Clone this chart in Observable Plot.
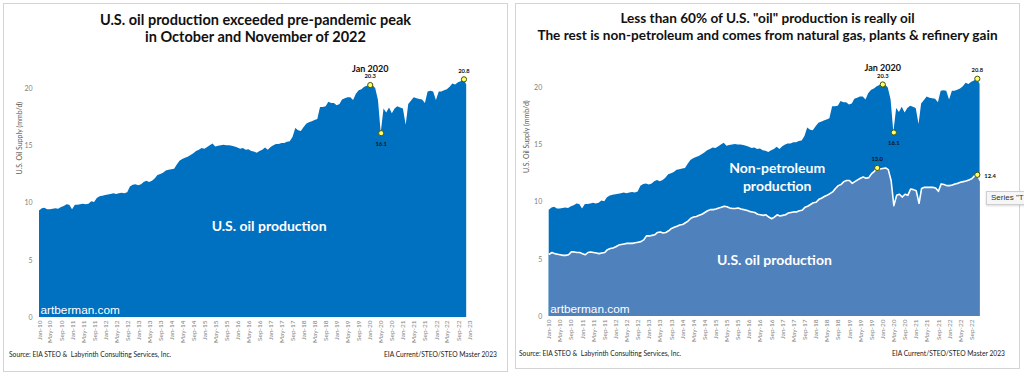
<!DOCTYPE html>
<html><head><meta charset="utf-8">
<script src="https://cdn.jsdelivr.net/npm/d3@7"></script>
<script src="https://cdn.jsdelivr.net/npm/@observablehq/plot@0.6"></script>
<style>
html,body{margin:0;padding:0;background:#fff;overflow:hidden;width:1024px;height:376px;}
.panel{position:absolute;border:1px solid #d4d4d4;background:#fff;box-sizing:border-box;overflow:visible;}
.title{position:absolute;left:0;right:0;text-align:center;font-family:Lato,sans-serif;font-weight:bold;color:#111;font-size:13.5px;line-height:17px;white-space:pre;}
.foot{position:absolute;font-family:Lato,sans-serif;font-size:6.7px;color:#222;white-space:pre;}
.chart{position:absolute;left:0;}
.tip{position:absolute;left:986px;top:191px;width:50px;height:12px;background:#f6f6f6;border:1px solid #cfcfcf;box-shadow:0 1px 2px rgba(0,0,0,0.15);font-family:"Liberation Sans",Arial,sans-serif;font-size:8px;color:#333;line-height:12px;padding-left:4px;white-space:pre;}
</style></head><body>
<div id="p1" class="panel" style="left:3px;top:3px;width:505px;height:369px">
  <div class="title" style="top:7px;font-size:14.5px">U.S. oil production exceeded pre-pandemic peak
in October and November of 2022</div>
  <div id="c1" class="chart" style="top:43px"></div>
  <div class="foot" style="left:5px;top:346px">Source: EIA STEO &amp;  Labyrinth Consulting Services, Inc.</div>
  <div class="foot" style="right:10px;top:346px">EIA Current/STEO/STEO Master 2023</div>
</div>
<div id="p2" class="panel" style="left:515px;top:3px;width:505px;height:366px">
  <div class="title" style="top:6px;font-size:13.6px">Less than 60% of U.S. "oil" production is really oil
The rest is non-petroleum and comes from natural gas, plants &amp; refinery gain</div>
  <div id="c2" class="chart" style="top:43px"></div>
  <div class="foot" style="left:3px;top:345px">Source: EIA STEO &amp;  Labyrinth Consulting Services, Inc.</div>
  <div class="foot" style="right:14px;top:345px">EIA Current/STEO/STEO Master 2023</div>
</div>
<div class="tip">Series "T</div>
<script>
// Monthly U.S. total oil supply (mmb/d), Jan 2010 - Dec 2022
const totalSupply = [
  9.3, 9.5, 9.55, 9.4, 9.4, 9.45, 9.5, 9.45, 9.6, 9.7, 9.85, 9.8,          // 2010
  9.4, 9.8, 9.8, 9.85, 9.9, 9.85, 9.9, 10.1, 10.05, 10.4, 10.55, 10.6,     // 2011
  10.65, 10.7, 10.75, 10.8, 10.75, 10.8, 10.85, 10.8, 10.9, 11.4, 11.55, 11.6, // 2012
  11.5, 11.6, 11.8, 11.9, 11.8, 11.9, 12.1, 12.4, 12.5, 12.6, 12.8, 12.85, // 2013
  12.9, 12.95, 13.3, 13.65, 13.8, 13.9, 14.0, 14.15, 14.3, 14.5, 14.6, 14.75, // 2014
  14.7, 14.85, 15.0, 15.15, 14.9, 14.95, 15.0, 15.05, 15.0, 15.0, 14.95, 14.9, // 2015
  14.8, 14.7, 14.75, 14.6, 14.65, 14.5, 14.45, 14.35, 14.5, 14.6, 14.8, 14.6, // 2016
  14.85, 15.0, 15.1, 15.1, 15.2, 15.2, 15.3, 15.35, 15.75, 16.5, 16.3, 16.25, // 2017
  16.6, 16.9, 17.0, 17.1, 17.2, 17.3, 18.35, 18.35, 18.4, 18.8, 18.7, 18.7, // 2018
  18.5, 18.6, 19.0, 19.1, 19.2, 19.2, 18.95, 19.5, 19.8, 19.9, 20.1, 20.2, // 2019
  20.3, 20.25, 20.0, 18.95, 16.1, 18.2, 17.85, 18.3, 17.8, 18.2, 18.4, 18.3, // 2020
  18.2, 16.8, 18.6, 18.9, 19.2, 19.1, 19.05, 19.0, 18.7, 19.7, 19.75, 19.7, // 2021
  18.95, 19.7, 19.7, 19.8, 19.9, 20.1, 20.4, 20.3, 20.5, 20.6, 20.8, 20.3  // 2022
];
// Monthly U.S. crude oil production (mmb/d), Jan 2010 - Dec 2022
const crudeOil = [
  5.45, 5.6, 5.5, 5.45, 5.4, 5.35, 5.35, 5.4, 5.65, 5.65, 5.6, 5.6,
  5.5, 5.4, 5.6, 5.65, 5.6, 5.55, 5.5, 5.55, 5.6, 5.85, 5.95, 6.0,
  6.1, 6.25, 6.3, 6.35, 6.4, 6.4, 6.4, 6.45, 6.5, 6.55, 6.7, 7.05,
  7.05, 7.1, 7.15, 7.35, 7.4, 7.3, 7.35, 7.5, 7.7, 7.8, 7.9, 8.0,
  8.05, 8.2, 8.35, 8.6, 8.7, 8.75, 8.85, 8.95, 9.1, 9.25, 9.35, 9.35,
  9.4, 9.5, 9.55, 9.65, 9.6, 9.5, 9.45, 9.45, 9.5, 9.4, 9.35, 9.3,
  9.2, 9.15, 9.1, 8.95, 8.9, 8.85, 8.9, 8.7, 8.55, 8.7, 8.9, 8.8,
  8.85, 8.9, 9.05, 9.1, 9.15, 9.15, 9.25, 9.3, 9.55, 9.65, 9.8, 9.95,
  10.0, 10.25, 10.35, 10.5, 10.6, 10.75, 10.9, 11.2, 11.45, 11.55, 11.8, 11.9,
  11.9, 11.65, 11.8, 11.95, 12.1, 12.2, 12.1, 12.15, 12.5, 12.7, 13.0, 12.9,
  12.95, 13.0, 12.85, 11.9, 9.7, 10.6, 10.7, 10.45, 10.7, 10.6, 11.15, 11.1,
  11.0, 9.9, 11.2, 11.3, 11.3, 11.3, 11.3, 11.25, 10.95, 11.6, 11.55, 11.45,
  11.45, 11.5, 11.6, 11.65, 11.75, 11.8, 11.85, 11.95, 12.05, 12.3, 12.4, 11.9
];
const yTicks = [0, 5, 10, 15, 20];
const totalCallouts = [
  {month: "2020-01", label: "20.3", head: "Jan 2020", side: "above"},
  {month: "2020-05", label: "16.1", head: "", side: "below"},
  {month: "2022-11", label: "20.8", head: "", side: "above"}
];
const crudeCallouts = [
  {month: "2019-11", label: "13.0", side: "above"},
  {month: "2022-11", label: "12.4", side: "right"}
];
const leftLabel = "U.S. oil production";
const rightLabels = ["Non-petroleum\nproduction", "U.S. oil production"];
const watermark = "artberman.com";
const yLabel = "U.S. Oil Supply (mmb/d)";

const start = new Date(Date.UTC(2010, 0, 1));
const end = new Date(Date.UTC(2023, 0, 1));
const months = d3.utcMonth.range(start, end);
const rows = months.map((date, i) => ({date, total: totalSupply[i], crude: crudeOil[i]}));
const fmt = d3.utcFormat("%Y-%m");
const idx = m => months.findIndex(d => fmt(d) === m);
const tc = totalCallouts.map(c => ({...c, date: months[idx(c.month)], value: totalSupply[idx(c.month)]}));
const cc = crudeCallouts.map(c => ({...c, date: months[idx(c.month)], value: crudeOil[idx(c.month)]}));

const DARK = "#0070c0", LIGHT = "#4f81bd";
const tickFmt = d3.utcFormat("%b-%y");
const dotOpts = {r: 2.6, fill: "#ffff66", stroke: "#44520a", strokeWidth: 1};
const small = {fontSize: 5.8, fontWeight: "bold", fill: "#111"};

function chart({xr, yr, width, tickEnd, double}) {
  const ticks = d3.utcMonth.every(4).range(start, tickEnd);
  const marks = [
    Plot.areaY(rows, {x: "date", y: "total", fill: DARK})
  ];
  if (double) {
    marks.push(Plot.areaY(rows, {x: "date", y: "crude", fill: LIGHT}));
    marks.push(Plot.lineY(rows, {x: "date", y: "crude", stroke: "#fff", strokeWidth: 1.6}));
  }
  marks.push(
    Plot.axisX({ticks, tickFormat: tickFmt, tickRotate: -90, tickSize: 0, tickPadding: 3, fontSize: 6.5, fill: "#7f7f7f", label: null}),
    Plot.axisY({ticks: yTicks, tickSize: 0, tickPadding: 7, fontSize: 7, fill: "#7f7f7f", label: null}),
    Plot.text([yLabel], {frameAnchor: "left", dx: double ? -22 : -20, dy: double ? -19 : -18, rotate: -90, fontSize: 7, fill: "#595959"}),
    Plot.text([watermark], {x: start, y: 0.6, dx: 1, textAnchor: "start", fontFamily: "Liberation Sans, Arial, sans-serif", fontSize: 11.8, fill: "#fff"}),
    Plot.dot(tc, {x: "date", y: "value", ...dotOpts}),
    Plot.text(tc.filter(d => d.head), {x: "date", y: "value", text: "head", dy: -16, fontSize: 9, fontWeight: "bold", fill: "#111"}),
    Plot.text(tc.filter(d => d.side === "above"), {x: "date", y: "value", text: "label", dy: -8.5, ...small}),
    Plot.text(tc.filter(d => d.side === "below"), {x: "date", y: "value", text: "label", dy: 11, ...small})
  );
  if (double) {
    marks.push(
      Plot.dot(cc, {x: "date", y: "value", ...dotOpts}),
      Plot.text(cc.filter(d => d.side === "above"), {x: "date", y: "value", text: "label", dy: -9, ...small}),
      Plot.text(cc.filter(d => d.side === "right"), {x: "date", y: "value", text: "label", dx: 7, dy: 1, textAnchor: "start", ...small}),
      Plot.text([rightLabels[0]], {x: new Date(Date.UTC(2016, 10, 1)), y: 12.25, fontSize: 14, fontWeight: "bold", fill: "#fff", lineHeight: 1.3}),
      Plot.text([rightLabels[1]], {x: new Date(Date.UTC(2016, 9, 1)), y: 4.9, fontSize: 14, fontWeight: "bold", fill: "#fff"})
    );
  } else {
    marks.push(Plot.text([leftLabel], {x: new Date(Date.UTC(2016, 11, 10)), y: 7.95, fontSize: 14, fontWeight: "bold", fill: "#fff"}));
  }
  return Plot.plot({
    width, height: 300,
    marginLeft: xr[0], marginRight: width - xr[1], marginTop: 20, marginBottom: 300 - yr[0],
    style: {fontFamily: "Lato, sans-serif", background: "transparent", overflow: "visible"},
    x: {type: "utc", domain: [start, end], range: xr},
    y: {domain: [0, 20], range: yr},
    marks
  });
}

document.getElementById("c1").append(chart({xr: [35, 465], yr: [270, 41], width: 503, tickEnd: new Date(Date.UTC(2023, 0, 2)), double: false}));
document.getElementById("c2").append(chart({xr: [32.7, 466.4], yr: [269, 40.4], width: 503, tickEnd: new Date(Date.UTC(2022, 8, 2)), double: true}));
</script>
</body></html>
